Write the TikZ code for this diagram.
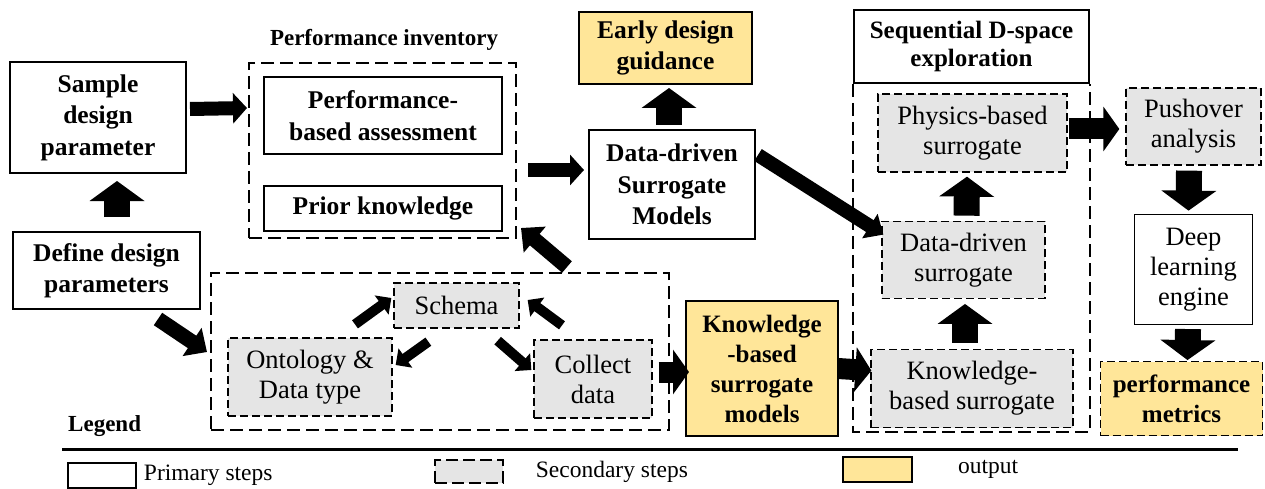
\documentclass[tikz,border=0pt]{standalone}
\usepackage{fontspec}
\setmainfont{Liberation Serif}
\usetikzlibrary{arrows.meta}
\usetikzlibrary{calc}
\usetikzlibrary{positioning}
\definecolor{outyellow}{HTML}{FFE699}
\tikzset{>={Triangle}}

\begin{document}
\begin{tikzpicture}[x=1pt,y=-1pt,
  primary/.style={draw,line width=2pt,rectangle,inner sep=0pt,align=center,font=\fontsize{25.5}{31.5}\selectfont\bfseries},
  secondary/.style={draw,line width=1.3pt,dash pattern=on 8pt off 4pt,fill=gray!20,rectangle,inner sep=0pt,align=center,font=\fontsize{26.5}{30}\selectfont},
  outbox/.style={primary,fill=outyellow},
  groupbox/.style={draw,line width=2pt,dash pattern=on 13pt off 6pt},
  grouptitle/.style={inner sep=0pt,font=\fontsize{23}{27}\selectfont\bfseries},
  legendtext/.style={inner sep=0pt,font=\fontsize{23.5}{27}\selectfont},
  bigarrow/.style={line width=26pt,-{Triangle[width=54pt,length=20pt]}},
  midarrow/.style={line width=14pt,-{Triangle[width=30pt,length=14pt]}},
  widearrow/.style={line width=21pt,-{Triangle[width=44pt,length=16pt]}},
  slantarrow/.style={line width=15pt,-{Triangle[width=33pt,length=18pt]}},
  smallarrow/.style={line width=10pt,-{Triangle[width=23pt,length=12pt]}}]

\useasboundingbox (0,0) rectangle (1265,489);

\node (sample) [primary,minimum width=176pt,minimum height=111pt] at (98,117.5) {Sample\\design\\parameter};
\node (define) [primary,minimum width=187pt,minimum height=77pt] at (106.5,270.5) {Define design\\parameters};

\node (perfinv) [groupbox,minimum width=267pt,minimum height=175pt] at (382.5,150.5) {};
\node (perftitle) [grouptitle] at (384,40) {Performance inventory};
\node (assess) [primary,minimum width=238pt,minimum height=77pt] at (383,115.5) {Performance-\\based assessment};
\node (prior) [primary,minimum width=238pt,minimum height=45pt,below=30pt of assess] {Prior knowledge};

\node (early) [outbox,minimum width=173pt,minimum height=72pt] at (665.5,48) {Early design\\guidance};
\node (ddsm) [primary,minimum width=166pt,minimum height=109pt] at (672,184.5) {Data-driven\\Surrogate\\Models};

\node (knowbox) [groupbox,minimum width=458pt,minimum height=157pt] at (440,351.5) {};
\node (schema) [secondary,minimum width=125pt,minimum height=45pt] at (456.5,305.5) {Schema};
\node (ontology) [secondary,minimum width=164pt,minimum height=78pt] at (310,377) {Ontology \&\\Data type};
\node (collect) [secondary,minimum width=118pt,minimum height=78pt] at (593,379) {Collect\\data};
\node (kbsm) [outbox,minimum width=152pt,minimum height=135pt,font=\fontsize{25}{30}\selectfont\bfseries] at (762,368.5) {Knowledge\\-based\\surrogate\\models};

\node (seqtitle) [primary,line width=1.8pt,minimum width=235pt,minimum height=73pt,font=\fontsize{25}{28}\selectfont\bfseries] at (971.5,46.5) {Sequential D-space\\exploration};
\draw [groupbox] (seqtitle.south west) -- ++(0pt,-348pt) -| (seqtitle.south east);
\node (physics) [secondary,minimum width=189pt,minimum height=78pt] at (972.5,133) {Physics-based\\surrogate};
\node (ddsur) [secondary,minimum width=163pt,minimum height=77pt,below=48pt of physics,xshift=-9pt] {Data-driven\\surrogate};
\node (kbsur) [secondary,minimum width=202pt,minimum height=78pt,below=50pt of ddsur,xshift=8.5pt] {Knowledge-\\based surrogate};

\node (pushover) [secondary,minimum width=135pt,minimum height=77pt] at (1193.5,126.5) {Pushover\\analysis};
\node (deep) [primary,line width=1.4pt,minimum width=118pt,minimum height=110pt,font=\fontsize{26.5}{30}\selectfont,below=48pt of pushover] {Deep\\learning\\engine};
\node (metrics) [secondary,fill=outyellow,minimum width=162pt,minimum height=74pt,font=\fontsize{25}{30}\selectfont\bfseries,below=36pt of deep,xshift=-12pt] {performance\\metrics};

\draw [bigarrow] ($(define.north)+(10.5pt,14pt)$) -- ($(sample.south)+(19pt,-7pt)$);
\draw [midarrow] ($(sample.east)+(3pt,8.5pt)$) -- ($(perfinv.north west)+(-1pt,-46pt)$);
\draw [midarrow] ($(perfinv.east)+(11pt,-19.5pt)$) -- ($(ddsm.west)+(-4pt,14.5pt)$);
\draw [bigarrow] ($(ddsm.north)+(-3pt,4pt)$) -- ($(early.south)+(3.5pt,-3pt)$);
\draw [slantarrow,line width=14pt,-{Triangle[width=28pt,length=16pt]}] ($(ddsm.north east)+(2pt,-26pt)$) -- ($(ddsur.north west)+(2pt,-14pt)$);
\draw [slantarrow] ($(define.south)+(51.5pt,-9pt)$) -- ($(knowbox.west)+(-3pt,-0.5pt)$);
\draw [slantarrow] ($(knowbox.north east)+(-103pt,5pt)$) -- ($(perfinv.south east)+(4pt,11pt)$);

\draw [smallarrow] ($(ontology.north)+(45pt,13pt)$) -- ($(schema.west)+(-2pt,7.5pt)$);
\draw [smallarrow] ($(schema.south west)+(35pt,-13pt)$) -- ($(ontology.east)+(3pt,12pt)$);
\draw [smallarrow] ($(schema.south east)+(-22pt,-12pt)$) -- ($(collect.west)+(-2pt,9pt)$);
\draw [smallarrow] ($(collect.north)+(-31pt,14pt)$) -- ($(schema.east)+(8pt,5.5pt)$);

\draw [widearrow] ($(collect.east)+(6pt,7pt)$) -- ($(kbsm.west)+(4pt,-3.5pt)$);
\draw [widearrow] ($(kbsm.east)+(-1pt,0pt)$) -- ($(kbsur.west)+(1pt,18pt)$);
\draw [bigarrow] ($(kbsur.north)+(-7pt,6pt)$) -- ($(ddsur.south)+(1.5pt,-5pt)$);
\draw [bigarrow] ($(ddsur.north)+(3pt,5pt)$) -- ($(physics.south)+(-5.5pt,-4pt)$);
\draw [widearrow] ($(physics.east)+(1pt,4pt)$) -- ($(pushover.west)+(-6pt,-2.5pt)$);
\draw [bigarrow] ($(pushover.south)+(-4.5pt,-5pt)$) -- ($(deep.north)+(-5pt,3pt)$);
\draw [bigarrow] ($(deep.south)+(-5.5pt,-4pt)$) -- ($(metrics.north)+(6pt,1pt)$);

\node (legend) [grouptitle,anchor=west] at (68,426) {Legend};
\coordinate (ruleleft) at (62,449);
\coordinate (ruleright) at (1238,449);
\draw [line width=3pt] (ruleleft) -- (ruleright);
\node (legprimary) [draw,line width=1.5pt,minimum width=68pt,minimum height=25pt,inner sep=0pt] at (102,475.5) {};
\node (legprimarytext) [legendtext,right=7pt of legprimary] {Primary steps};
\node (legsecondary) [secondary,dash pattern=on 12pt off 5pt,minimum width=68pt,minimum height=23pt] at (469,471.5) {};
\node (legsecondarytext) [legendtext,right=32pt of legsecondary] {Secondary steps};
\node (legoutput) [draw,line width=1.8pt,fill=outyellow,minimum width=69pt,minimum height=25pt,inner sep=0pt] at (877.5,469.5) {};
\node (legoutputtext) [legendtext,right=45pt of legoutput] {output};

\end{tikzpicture}
\end{document}
